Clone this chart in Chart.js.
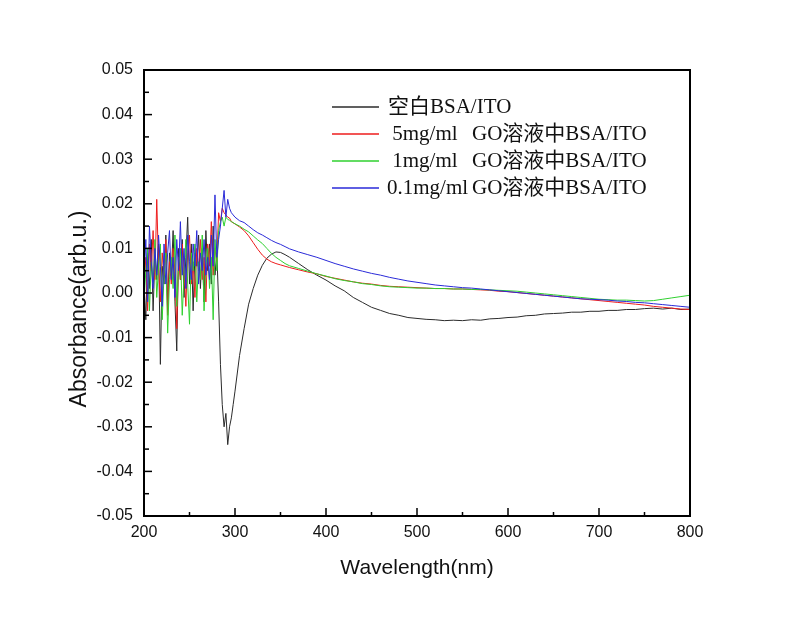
<!DOCTYPE html>
<html>
<head>
<meta charset="utf-8">
<script src="https://cdn.jsdelivr.net/npm/chart.js@4.4.0/dist/chart.umd.min.js"></script>
<style>
  html, body { margin: 0; padding: 0; background: #fff; }
  #wrap { width: 800px; height: 618px; }
</style>
</head>
<body>
<div id="wrap"><canvas id="chart" width="800" height="618"></canvas></div>
<script>
// ── Wavelength grid (nm) ──
const wavelengths = [
  200,202,204,206,208,210,212,214,216,218,220,222,224,226,228,230,232,234,236,238,
  240,242,244,246,248,250,252,254,256,258,260,262,264,266,268,270,272,274,276,278,280,282,
  284,286,288,290,292,294,296,298,300,
  305,310,315,320,325,330,335,340,345,350,355,360,
  370,380,390,400,410,420,430,440,450,460,470,480,490,500,510,520,530,540,550,560,
  570,580,590,600,610,620,630,640,650,660,670,680,690,700,710,720,730,740,750,760,
  770,780,790,800
];

// ── Series (absorbance, arb.u.) ──
const blankBSA = [
  0.002,-0.006,0.009,0.001,0.012,-0.004,0.008,0.003,0.011,-0.016,
  0.006,0.002,0.013,-0.003,0.009,0.004,0.014,-0.002,-0.013,0.010,
  0.003,0.012,-0.001,0.008,0.017,0.002,0.011,-0.004,0.009,0.006,
  0.013,0.001,0.010,-0.002,0.014,0.005,0.011,0.002,0.015,0.004,0.009,-0.002,
  -0.016,-0.025,-0.030,-0.027,-0.034,-0.030,-0.028,-0.025,-0.022,
  -0.014,-0.008,-0.0025,0.001,0.004,0.0062,0.0078,0.0087,0.0092,0.0091,0.0086,0.0080,
  0.0066,0.0052,0.0040,0.0029,0.0016,0.0005,-0.0010,-0.0021,-0.0032,-0.0039,
  -0.0046,-0.0050,-0.0055,-0.0057,-0.0059,-0.0060,-0.0062,-0.0061,-0.0062,-0.0060,
  -0.0061,-0.0058,-0.0057,-0.0055,-0.0054,-0.0051,-0.0050,-0.0047,-0.0046,-0.0045,
  -0.0043,-0.0043,-0.0041,-0.0041,-0.0039,-0.0039,-0.0037,-0.0037,-0.0035,-0.0034,
  -0.0036,-0.0034,-0.0037,-0.0036
];
const go5 = [
  0.001,0.008,-0.004,0.011,0.005,0.014,0.003,0.021,0.006,-0.002,
  0.009,0.004,0.012,-0.005,0.007,0.002,0.010,0.005,-0.008,0.008,
  0.003,0.011,0.006,-0.003,0.009,0.013,0.002,0.007,-0.001,0.010,
  0.005,0.012,0.003,0.008,-0.002,0.011,0.006,0.016,0.004,0.010,0.007,0.018,
  0.016,0.019,0.018,0.0175,0.017,0.0168,0.016,0.0157,0.0155,
  0.0148,0.0140,0.0128,0.0113,0.0098,0.0085,0.0076,0.0070,0.0066,0.0063,0.0060,0.0057,
  0.0052,0.0047,0.0043,0.0037,0.0033,0.0029,0.0025,0.0022,0.0020,0.0017,
  0.0015,0.0014,0.0013,0.0012,0.0011,0.0010,0.0010,0.0009,0.0009,0.0008,
  0.0007,0.0006,0.0004,0.0003,0.0001,-0.0001,-0.0003,-0.0005,-0.0007,-0.0009,
  -0.0011,-0.0013,-0.0015,-0.0017,-0.0019,-0.0021,-0.0023,-0.0025,-0.0027,-0.0030,
  -0.0032,-0.0034,-0.0036,-0.0037
];
const go1 = [
  -0.002,0.005,0.010,-0.004,0.007,0.002,0.012,-0.001,0.006,0.011,
  -0.006,0.004,0.009,-0.009,0.003,0.008,0.001,0.013,-0.003,0.006,
  0.010,-0.005,0.004,0.012,0.002,-0.007,0.009,0.005,0.011,-0.002,
  0.007,0.003,0.013,-0.004,0.006,0.010,0.001,0.008,-0.006,0.012,0.005,0.014,
  0.016,0.017,0.015,0.017,0.0165,0.0163,0.016,0.0158,0.0155,
  0.0150,0.0143,0.0137,0.0128,0.0119,0.0111,0.0100,0.0089,0.0080,0.0073,0.0066,0.0061,
  0.0055,0.0049,0.0043,0.0038,0.0032,0.0028,0.0025,0.0021,0.0019,0.0016,
  0.0014,0.0013,0.0012,0.0011,0.0011,0.0010,0.0010,0.0009,0.0009,0.0008,
  0.0008,0.0007,0.0006,0.0005,0.0004,0.0002,0.0000,-0.0002,-0.0004,-0.0006,
  -0.0008,-0.0010,-0.0012,-0.0014,-0.0015,-0.0016,-0.0016,-0.0017,-0.0018,-0.0017,
  -0.0014,-0.0011,-0.0008,-0.0005
];
const go01 = [
  0.004,0.012,-0.002,0.015,0.007,0.001,0.010,0.004,0.013,0.006,
  -0.003,0.011,0.002,0.009,0.014,0.003,0.008,-0.001,0.012,0.005,
  0.016,0.004,0.010,0.001,0.013,0.007,0.003,0.011,0.006,0.014,
  0.002,0.009,0.005,0.012,0.004,0.008,0.003,0.013,0.006,0.022,0.008,0.012,
  0.015,0.019,0.023,0.017,0.021,0.019,0.018,0.0175,0.017,
  0.0162,0.0158,0.0150,0.0142,0.0135,0.0130,0.0124,0.0118,0.0113,0.0109,0.0104,0.0099,
  0.0092,0.0086,0.0080,0.0073,0.0066,0.0060,0.0054,0.0049,0.0044,0.0040,
  0.0035,0.0031,0.0027,0.0024,0.0021,0.0018,0.0016,0.0014,0.0012,0.0011,
  0.0009,0.0007,0.0005,0.0003,0.0001,-0.0001,-0.0003,-0.0005,-0.0007,-0.0009,
  -0.0011,-0.0013,-0.0014,-0.0015,-0.0016,-0.0018,-0.0019,-0.0021,-0.0022,-0.0024,
  -0.0026,-0.0028,-0.0030,-0.0032
];

const seriesLabels = [
  "空白BSA/ITO",
  " 5mg/ml   GO溶液中BSA/ITO",
  " 1mg/ml   GO溶液中BSA/ITO",
  "0.1mg/ml GO溶液中BSA/ITO"
];
const seriesColors = ["#2b2b2b", "#ee1c1c", "#2fd02f", "#2a2ad8"];
const seriesOrder  = [3, 2, 1, 0];      // blue drawn on top, black underneath

// ── Axis ticks ──
const xTicks = [200, 300, 400, 500, 600, 700, 800];
const xMinor = [250, 350, 450, 550, 650, 750];
const yTicks = [-0.05, -0.04, -0.03, -0.02, -0.01, 0, 0.01, 0.02, 0.03, 0.04, 0.05];
const yMinor = [-0.045, -0.035, -0.025, -0.015, -0.005, 0.005, 0.015, 0.025, 0.035, 0.045];

const AXIS_FONT = '"Liberation Sans", Arial, sans-serif';
const LEGEND_FONT = '21px "Liberation Serif", "Times New Roman", "Noto Sans CJK SC", serif';

/* ================================================================
   FRAME, INWARD TICKS, Y TITLE, LEGEND
   ================================================================ */
const framePlugin = {
  id: "framePlugin",
  afterDraw(chart) {
    const ctx = chart.ctx;
    const xs = chart.scales.x;
    const ys = chart.scales.y;
    const { left, right, top, bottom } = chart.chartArea;

    const seg = (x1, y1, x2, y2, color, width) => {
      ctx.beginPath();
      ctx.strokeStyle = color;
      ctx.lineWidth = width;
      ctx.moveTo(x1, y1);
      ctx.lineTo(x2, y2);
      ctx.stroke();
    };

    ctx.save();
    xTicks.forEach(v => { const p = xs.getPixelForValue(v); seg(p, bottom, p, bottom - 8, "#000", 1.5); });
    xMinor.forEach(v => { const p = xs.getPixelForValue(v); seg(p, bottom, p, bottom - 4, "#000", 1.5); });
    yTicks.forEach(v => { const p = ys.getPixelForValue(v); seg(left, p, left + 8, p, "#000", 1.5); });
    yMinor.forEach(v => { const p = ys.getPixelForValue(v); seg(left, p, left + 5, p, "#000", 1.5); });

    // box
    ctx.strokeStyle = "#000";
    ctx.lineWidth = 2;
    ctx.strokeRect(left, top, right - left, bottom - top);

    // y title
    ctx.save();
    ctx.translate(80, 309);
    ctx.rotate(-Math.PI / 2);
    ctx.font = "23px " + AXIS_FONT;
    ctx.fillStyle = "#111";
    ctx.textAlign = "center";
    ctx.textBaseline = "middle";
    ctx.fillText("Absorbance(arb.u.)", 0, 0);
    ctx.restore();

    // legend
    const rowsY = [107, 134, 161, 188];
    seriesLabels.forEach((lbl, i) => {
      const y = rowsY[i];
      seg(left + 188, y, left + 235, y, seriesColors[i], 1.3);
      ctx.font = LEGEND_FONT;
      ctx.fillStyle = "#111";
      ctx.textAlign = "left";
      ctx.textBaseline = "middle";
      const cut = lbl.indexOf("GO");
      if (cut < 0) {
        ctx.fillText(lbl, left + 244, y);
      } else {
        ctx.fillText(lbl.slice(0, cut), left + 243, y);
        ctx.fillText(lbl.slice(cut), left + 328, y);
      }
    });
    ctx.restore();
  }
};

/* ================================================================
   CHART
   ================================================================ */
const datasets = [blankBSA, go5, go1, go01].map((vals, i) => ({
  label: seriesLabels[i],
  data: wavelengths.map((w, j) => ({ x: w, y: vals[j] })),
  borderColor: seriesColors[i],
  borderWidth: 1,
  pointRadius: 0,
  tension: 0,
  fill: false,
  order: seriesOrder[i]
}));

new Chart(document.getElementById("chart"), {
  type: "line",
  data: { datasets },
  options: {
    responsive: false,
    animation: false,
    devicePixelRatio: 1,
    layout: { padding: { left: 0, top: 70, right: 110, bottom: 0 } },
    plugins: {
      legend: { display: false },
      tooltip: { enabled: false }
    },
    scales: {
      x: {
        type: "linear",
        min: 200,
        max: 800,
        afterBuildTicks: s => { s.ticks = xTicks.map(v => ({ value: v })); },
        afterFit: s => { s.height = 102; },
        grid: { display: false, drawTicks: false },
        border: { display: false },
        ticks: {
          padding: 7,
          color: "#111",
          font: { family: AXIS_FONT, size: 16 },
          maxRotation: 0,
          callback: v => String(v)
        },
        title: {
          display: true,
          text: "Wavelength(nm)",
          color: "#111",
          font: { family: AXIS_FONT, size: 21 },
          padding: { top: 0, bottom: 37 }
        }
      },
      y: {
        type: "linear",
        min: -0.05,
        max: 0.05,
        afterBuildTicks: s => { s.ticks = yTicks.map(v => ({ value: v })); },
        afterFit: s => { s.width = 144; },
        grid: { display: false, drawTicks: false },
        border: { display: false },
        ticks: {
          padding: 11,
          color: "#111",
          font: { family: AXIS_FONT, size: 16 },
          callback: v => (Math.abs(v) < 1e-9 ? 0 : v).toFixed(2)
        }
      }
    }
  },
  plugins: [framePlugin]
});
</script>
</body>
</html>
